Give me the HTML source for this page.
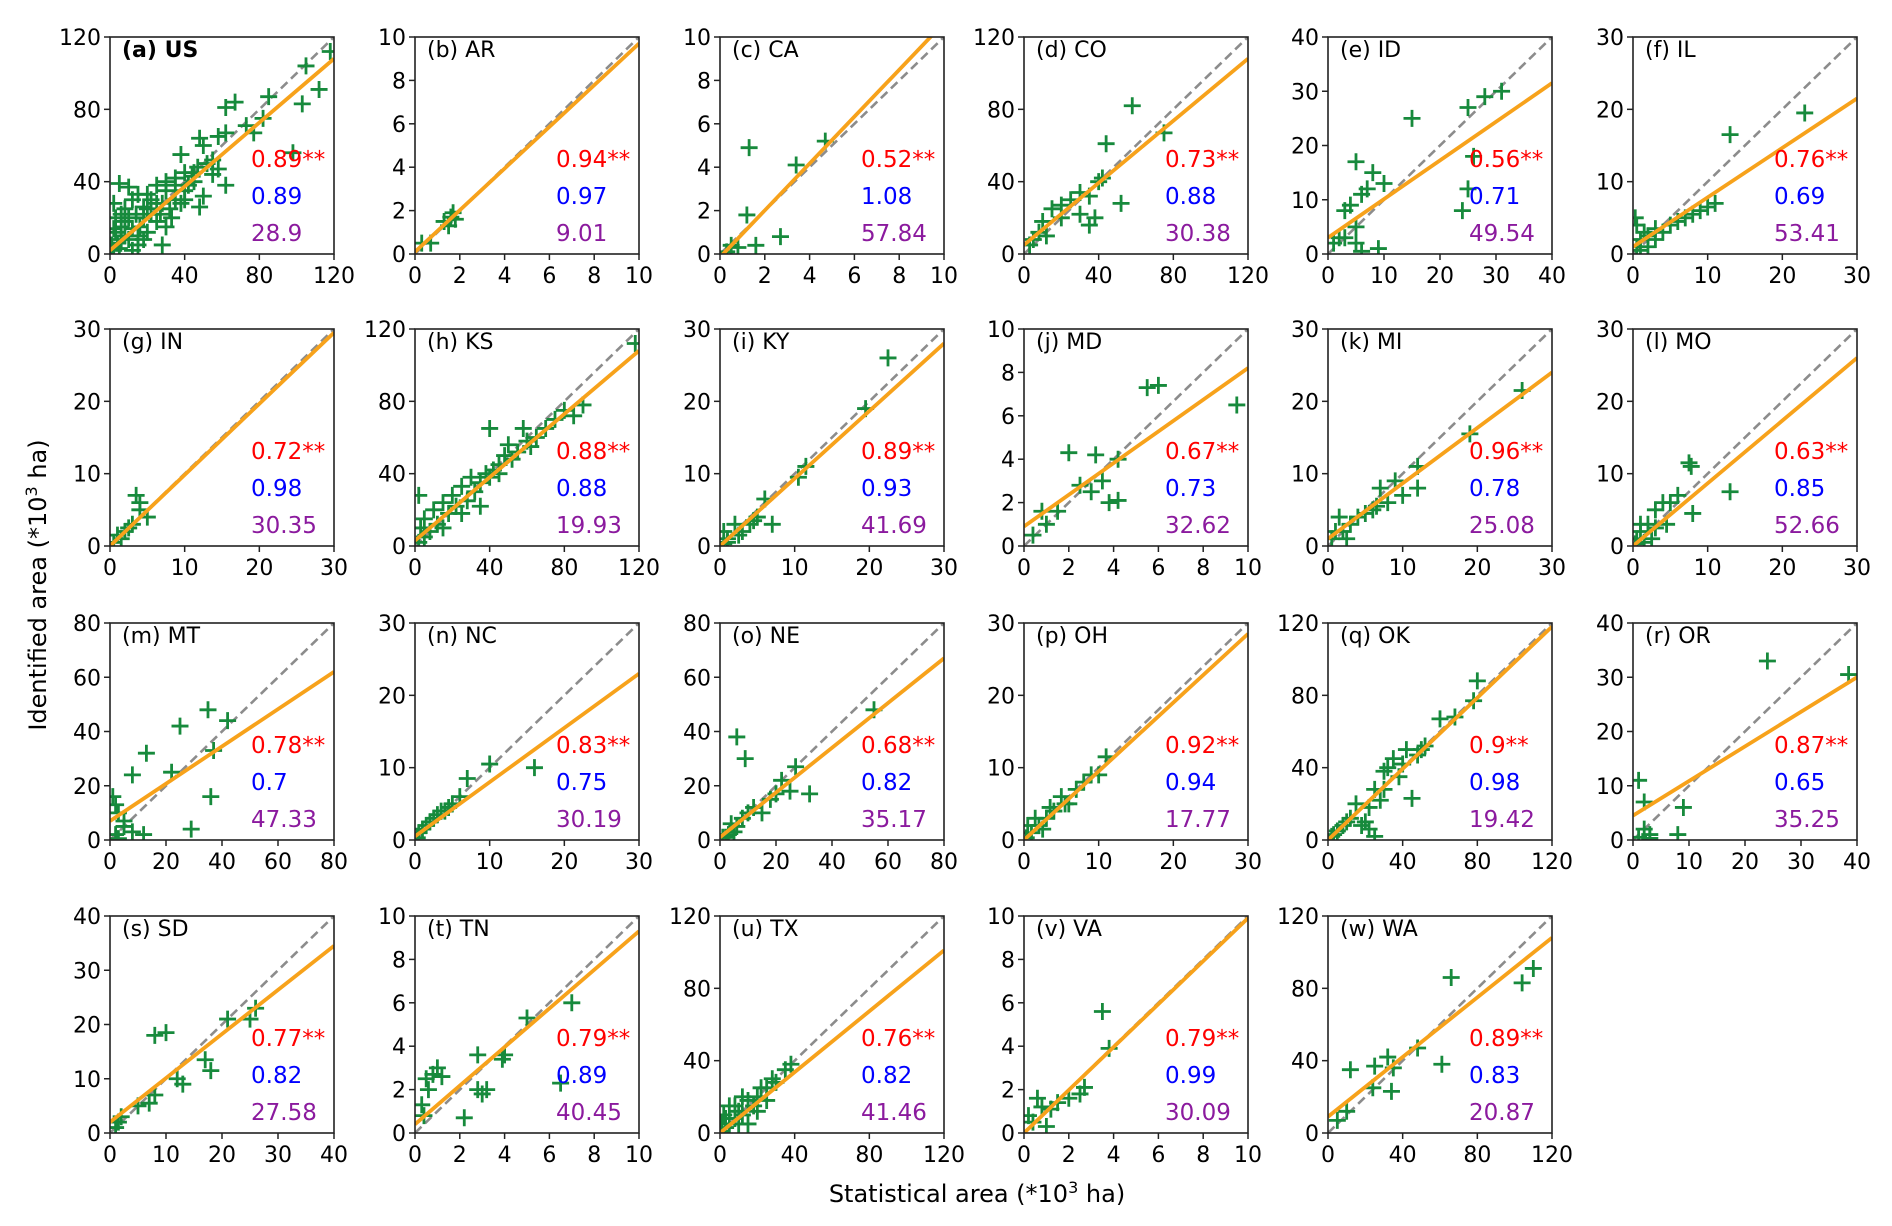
<!DOCTYPE html>
<html><head><meta charset="utf-8"><style>
html,body{margin:0;padding:0;background:#fff}
svg{display:block;font-family:"DejaVu Sans","Liberation Sans",sans-serif}
</style></head><body>
<svg id="chart" width="1892" height="1226" viewBox="0 0 1892 1226" xmlns="http://www.w3.org/2000/svg">
<text x="0" y="0" transform="translate(46,585) rotate(-90)" text-anchor="middle" font-size="24">Identified area (*10<tspan baseline-shift="super" font-size="16">3</tspan> ha)</text>
<text x="977" y="1202" text-anchor="middle" font-size="24">Statistical area (*10<tspan baseline-shift="super" font-size="16">3</tspan> ha)</text>
</svg>
<script>
const panelNames=["(a) US","(b) AR","(c) CA","(d) CO","(e) ID","(f) IL","(g) IN","(h) KS","(i) KY","(j) MD","(k) MI","(l) MO","(m) MT","(n) NC","(o) NE","(p) OH","(q) OK","(r) OR","(s) SD","(t) TN","(u) TX","(v) VA","(w) WA"];
const panelMax=[120,10,10,120,40,30,30,120,30,10,30,30,80,30,80,30,120,40,40,10,120,10,120];
const fitIntercept=[2,0.1,-0.15,5,3,1,0,3,0,0.9,1,0,7,0.5,1,0,0,4.5,2,0.4,0,0,9];
const fitEnd=[108,9.7,10.65,108,31.5,21.5,29.5,108,28,8.2,24,26,62,23,67,28.5,118,30,34.5,9.3,101,9.9,108];
const statR=["0.89**","0.94**","0.52**","0.73**","0.56**","0.76**","0.72**","0.88**","0.89**","0.67**","0.96**","0.63**","0.78**","0.83**","0.68**","0.92**","0.9**","0.87**","0.77**","0.79**","0.76**","0.79**","0.89**"];
const statSlope=["0.89","0.97","1.08","0.88","0.71","0.69","0.98","0.88","0.93","0.73","0.78","0.85","0.7","0.75","0.82","0.94","0.98","0.65","0.82","0.89","0.82","0.99","0.83"];
const statRmse=["28.9","9.01","57.84","30.38","49.54","53.41","30.35","19.93","41.69","32.62","25.08","52.66","47.33","30.19","35.17","17.77","19.42","35.25","27.58","40.45","41.46","30.09","20.87"];
const panelPoints=[
[[118,112],[105,104],[112,91],[103,83],[98,56],[85,87],[73,71],[82,75],[77,67],[62,81],[67,84],[58,65],[62,67],[48,64],[50,60],[38,55],[58,47],[55,44],[50,32],[48,26],[62,38],[45,40],[40,45],[35,42],[30,40],[25,38],[20,33],[15,33],[10,37],[5,39],[2,28],[8,25],[12,30],[18,20],[22,30],[28,28],[32,25],[35,30],[30,15],[25,18],[20,12],[28,5],[15,5],[10,8],[5,3],[2,2],[3,12],[6,15],[8,18],[12,14],[15,10],[18,8],[22,22],[25,28],[30,35],[35,38],[40,35],[42,38],[45,45],[38,28],[33,20],[27,22],[20,25],[14,22],[8,10],[4,6],[1,5],[3,20],[6,22],[10,20],[16,15],[40,30],[44,43],[52,50],[55,52],[47,48],[12,2],[6,8],[2,14],[18,26]],
[[0.3,0.5],[0.7,0.5],[1.3,1.5],[1.6,1.7],[1.8,1.6],[1.5,1.3],[1.7,1.9]],
[[1.3,4.9],[3.4,4.1],[4.7,5.2],[1.2,1.8],[2.7,0.8],[0.5,0.4],[1.6,0.4],[0.3,0.1],[0.8,0.3]],
[[58,82],[75,67],[44,61],[52,28],[40,40],[35,32],[30,34],[25,30],[30,22],[35,16],[20,27],[15,25],[10,18],[8,12],[5,8],[3,5],[38,20],[42,42],[20,20],[12,10]],
[[31,30],[28,29],[25,27],[26,18],[25,12],[24,8],[15,25],[10,13],[8,15],[9,1],[6,11],[5,17],[4,9],[3,8],[5,2],[6,0.5],[2,3],[3,3],[7,12],[5,5],[1,2]],
[[23,19.5],[13,16.5],[11,7],[8,5.5],[7,5],[6,4.5],[5,4],[4,3],[3,3.5],[2,2.5],[1,2],[0.5,4],[0.5,1],[1,0.5],[2,1],[3,2],[1.5,3],[9,6],[10,6.5],[0.3,5]],
[[3.5,7],[4,5],[5,4],[3,3],[2,2],[1,1.5],[0.5,0.5],[1.5,1],[2.5,2.5],[4,6]],
[[118,112],[90,78],[85,72],[70,65],[65,60],[58,65],[50,56],[40,65],[45,45],[42,42],[38,40],[35,35],[30,38],[25,33],[20,28],[15,24],[10,20],[5,15],[2,28],[3,10],[8,8],[12,12],[18,18],[22,22],[28,25],[32,30],[48,50],[55,52],[60,58],[35,22],[25,18],[15,10],[5,5],[2,2],[40,38],[45,40],[52,48],[62,55],[75,70],[80,75]],
[[22.5,26],[19.5,19],[11.5,11],[10.5,9.5],[7,3],[6,6.5],[5,4],[4,3],[3,2],[2,3],[1,1],[0.5,2],[1,0.5],[4.5,3.5],[2.5,1.5],[0.5,0.3]],
[[9.5,6.5],[6,7.4],[5.5,7.3],[4.2,4],[3.8,2],[4.2,2.1],[3.2,4.2],[2,4.3],[3.5,3],[3,2.5],[2.5,2.8],[1.5,1.6],[0.8,1.6],[0.4,0.5],[1,1]],
[[26,21.5],[19,15.5],[12,11],[12,8],[10,7],[8,6],[7,8],[6,5],[5,4.5],[4,4],[3,3],[2,2],[1,2],[0.5,1],[1.5,4],[2.5,1],[6.5,5.5],[9,9]],
[[7.5,11.5],[7.8,11],[13,7.5],[8,4.5],[6,7],[5,6],[4,6],[3,5],[3,2.5],[2,3],[1,2],[0.5,1],[1.5,0.5],[2.5,1],[4.5,3],[0.3,0.3],[1,3]],
[[35,48],[42,44],[25,42],[13,32],[37,33],[36,16],[22,25],[8,24],[29,4],[12,2],[5,7],[2,13],[1,16],[3,10],[5,5],[2,2],[8,3],[3,0.5]],
[[16,10],[10,10.5],[7,8.5],[6,6],[5,5],[4,4],[3,3.5],[2,2.5],[1,1.5],[0.5,1],[1.5,2],[2.5,3],[3.5,4],[0.3,0.3],[4.5,4.5]],
[[6,38],[9,30],[55,48],[32,17],[27,27],[20,17],[18,15],[15,10],[12,12],[10,10],[8,8],[6,5],[5,3],[4,6],[3,2],[2,1],[1,1],[25,18],[22,22]],
[[11,11.5],[9,9],[8,8],[6,5],[5,6],[4,4],[3,3],[2,2],[1,1],[0.5,2],[1.5,3],[2.5,1.5],[3.5,4.5],[5.5,5],[7,7],[0.3,0.3],[10,9]],
[[80,88],[78,77],[68,68],[60,67],[52,52],[50,50],[45,23],[48,47],[40,42],[35,45],[32,40],[30,38],[28,22],[25,28],[22,18],[20,10],[18,8],[15,20],[12,12],[10,10],[8,8],[5,5],[3,3],[2,2],[25,2],[22,6],[38,35],[42,50],[30,28]],
[[24,33],[38.5,30.5],[1,11],[2,7],[9,6],[8,1],[2,2],[3,1],[1,0.5],[3,0.3]],
[[26,23],[25,21],[21,21],[17,13.5],[18,11.5],[10,18.5],[8,18],[13,9],[12,10],[8,7],[7,5.5],[5,5],[2,3],[1,1],[1.5,2]],
[[7,6],[5,5.3],[6.5,2.3],[4,3.6],[3.9,3.4],[2.8,3.6],[3,1.8],[3.2,2],[2.8,2],[2.2,0.7],[1,3],[0.8,2.7],[0.5,2.5],[0.3,1.3],[1.2,2.6],[0.6,2],[0.4,0.8]],
[[38,38],[35,35],[30,28],[25,25],[20,20],[18,15],[15,18],[12,10],[10,12],[8,8],[5,5],[3,3],[2,10],[1,5],[5,15],[10,5],[15,5],[20,12],[25,18],[28,30],[22,25],[12,20],[8,15],[3,8],[0.5,1]],
[[3.5,5.6],[3.8,3.9],[2.7,2.1],[2.5,1.8],[2,1.6],[1.5,1.4],[1.2,1.1],[0.8,1.2],[0.6,1.6],[0.4,0.5],[1,0.3],[0.2,0.8]],
[[66,86],[104,83],[110,91],[32,42],[25,37],[35,36],[12,35],[48,47],[61,38],[24,25],[34,23],[10,12],[5,7]]
];
const colLeft=[110,415,720,1024,1328,1633];
const rowTop=[37,329,623,916];
const W=224,H=217;
const NS="http://www.w3.org/2000/svg";
const svg=document.getElementById('chart');
function mk(tag,attrs,parent){const e=document.createElementNS(NS,tag);for(const k in attrs)e.setAttribute(k,attrs[k]);parent.appendChild(e);return e;}
function ticksFor(m){const step=m===120?40:(m===80?20:(m===10?2:10));const t=[];for(let v=0;v<=m+1e-9;v+=step)t.push(v);return t;}
panelNames.forEach((name,i)=>{
  const L=colLeft[i%6],T=rowTop[Math.floor(i/6)],m=panelMax[i];
  const sx=v=>L+v/m*W, sy=v=>T+H-v/m*H;
  const g=mk('g',{},svg);
  
  
  const cid='clip'+i;
  const cp=mk('clipPath',{id:cid},g);mk('rect',{x:L,y:T,width:W,height:H},cp);
  const inner=mk('g',{'clip-path':'url(#'+cid+')'},g);
  const d=mk('line',{x1:sx(0),y1:sy(0),x2:sx(m),y2:sy(m),stroke:'#8c8c8c','stroke-width':2.6,'stroke-dasharray':'9,5'},inner);
  
  
  panelPoints[i].forEach(p=>{
    const x=sx(p[0]),y=sy(p[1]),r=8.5;
    const pt=mk('path',{d:`M${x-r},${y}H${x+r}M${x},${y-r}V${y+r}`,stroke:'#178a3c','stroke-width':2.8,fill:'none'},inner);
    
    
  });
  const f=mk('line',{x1:sx(0),y1:sy(fitIntercept[i]),x2:sx(m),y2:sy(fitEnd[i]),stroke:'#f7a21b','stroke-width':3.8},inner);
  
  
  const fr=mk('rect',{x:L,y:T,width:W,height:H,fill:'none',stroke:'#222','stroke-width':1.6},g);
  
  
  ticksFor(m).forEach(v=>{
    mk('line',{x1:sx(v),y1:T+H,x2:sx(v),y2:T+H+6,stroke:'#222','stroke-width':1.5},g);
    const tx=mk('text',{x:sx(v),y:T+H+29,'text-anchor':'middle','font-size':22},g);tx.textContent=v;
    
    
    mk('line',{x1:L-6,y1:sy(v),x2:L,y2:sy(v),stroke:'#222','stroke-width':1.5},g);
    const ty=mk('text',{x:L-9,y:sy(v)+8,'text-anchor':'end','font-size':22},g);ty.textContent=v;
    
    
  });
  const lb=mk('text',{x:L+12,y:T+20,'font-size':22,'font-weight':i===0?'bold':'normal'},g);lb.textContent=name;
  
  
  const s1=mk('text',{x:L+141,y:T+130,'font-size':23,fill:'#ff0000'},g);s1.textContent=statR[i];
  
  
  const s2=mk('text',{x:L+141,y:T+167,'font-size':23,fill:'#0000ff'},g);s2.textContent=statSlope[i];
  
  
  const s3=mk('text',{x:L+141,y:T+204,'font-size':23,fill:'#8b1a9e'},g);s3.textContent=statRmse[i];
  
  
});
</script>
</body></html>
